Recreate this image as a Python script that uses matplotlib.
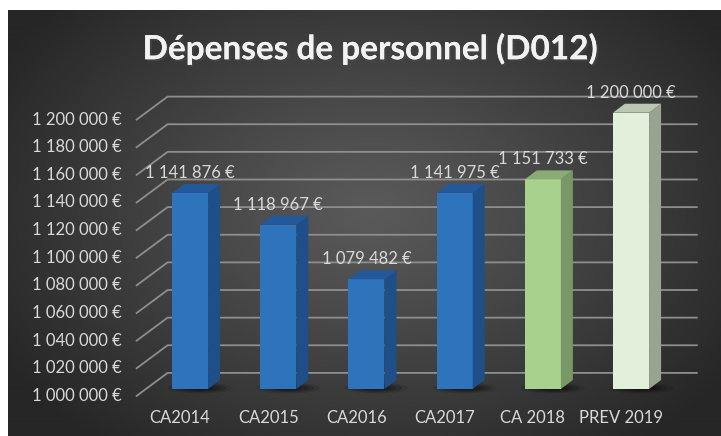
import numpy as np
import matplotlib
matplotlib.use("Agg")
import matplotlib.pyplot as plt
from matplotlib.patches import Polygon, Ellipse
import matplotlib.patheffects as pe

# data
categories = ["CA2014", "CA2015", "CA2016", "CA2017", "CA 2018", "PREV 2019"]
values = [1141876, 1118967, 1079482, 1141975, 1151733, 1200000]
y_ticks = list(range(1000000, 1200001, 20000))
base = 1000000

front_cols = ["#2e74bd", "#2e74bd", "#2e74bd", "#2e74bd", "#a9d18e", "#e2efda"]
side_cols = ["#1f4f88", "#1f4f88", "#1f4f88", "#1f4f88", "#7a9766", "#98a491"]
top_cols = ["#23589a", "#23589a", "#23589a", "#23589a", "#8aab75", "#bcc7b3"]

plt.rcParams["font.family"] = ["Lato", "DejaVu Sans"]

W, H = 721, 436
fig = plt.figure(figsize=(W / 100, H / 100), dpi=100, facecolor="white")

# background with radial gradient
bg = fig.add_axes([0, 0, 1, 1])
bg.set_xlim(0, W)
bg.set_ylim(H, 0)
bg.axis("off")
yy, xx = np.mgrid[11:H, 8:W]
r = np.sqrt(((xx - 370) / 430.0) ** 2 + ((yy - 210) / 300.0) ** 2)
shade = 90 - 52 * np.clip(r, 0, 1) ** 1.1
img = np.dstack([shade, shade, shade]) / 255.0
bg.imshow(img, extent=(8, W, H, 11), aspect="auto", interpolation="bilinear")

# plot plane (bar plane)
ax = fig.add_axes([145.9 / W, 47 / H, 529.2 / W, 276.3 / H])
ax.set_xlim(-0.5, 5.5)
ax.set_ylim(1000000, 1200000)
ax.patch.set_alpha(0)
ax.axis("off")

FRONT = (-9.3, -6.9)
BACK = (21.7, 16.1)
DEPTH = (12, 9)
grid_col = "#8e8e8e"
txt_col = "#d9d9d9"


def off(x, y, dx, dy):
    p = ax.transData.transform((x, y))
    return ax.transData.inverted().transform((p[0] + dx, p[1] + dy))


# gridlines: diagonal side wall + back wall
for v in y_ticks:
    p0 = off(-0.5, v, *FRONT)
    p1 = off(-0.5, v, *BACK)
    p2 = off(5.5, v, *BACK)
    ax.plot([p0[0], p1[0], p2[0]], [p0[1], p1[1], p2[1]], color=grid_col,
            lw=1.3, clip_on=False, zorder=1)
    lp = off(-0.5, v, FRONT[0] - 15, FRONT[1])
    ax.text(lp[0], lp[1], f"{v:,.0f}".replace(",", " ") + " €", ha="right",
            va="center", fontsize=12, color=txt_col)

x = np.arange(len(categories))
bw = 0.41
px_x = ax.transData.transform((1, base))[0] - ax.transData.transform((0, base))[0]
px_y = ax.transData.transform((0, base + 1))[1] - ax.transData.transform((0, base))[1]

# soft shadows at bar bases
for xi in x:
    for k, a in enumerate([0.10, 0.14, 0.18, 0.22]):
        e = Ellipse((xi + 10 / px_x, base + 1 / px_y), width=(64 - 12 * k) / px_x,
                    height=(11 - 2 * k) / px_y, color="black", alpha=a, lw=0,
                    zorder=2, clip_on=False)
        ax.add_patch(e)

ax.bar(x, [v - base for v in values], bottom=base, width=bw, color=front_cols, zorder=3)

for xi, v, sc, tc in zip(x, values, side_cols, top_cols):
    r0 = (xi + bw / 2, base)
    r1 = (xi + bw / 2, v)
    side = [r0, r1, off(*r1, *DEPTH), off(*r0, *DEPTH)]
    ax.add_patch(Polygon(side, closed=True, color=sc, lw=0, zorder=3, clip_on=False))
    l1 = (xi - bw / 2, v)
    top = [l1, r1, off(*r1, *DEPTH), off(*l1, *DEPTH)]
    ax.add_patch(Polygon(top, closed=True, color=tc, lw=0, zorder=3, clip_on=False))
    ax.annotate(f"{v:,.0f}".replace(",", " ") + " €", (xi, v), xytext=(0, 20),
                textcoords="offset pixels", ha="center", va="center",
                fontsize=12, color=txt_col, zorder=4)

for xi, c in zip(x, categories):
    ax.annotate(c, (xi, base), xytext=(-10, -29), textcoords="offset pixels",
                ha="center", va="center", fontsize=12, color=txt_col,
                annotation_clip=False)

fig.text(370 / W, 1 - 49 / H, "Dépenses de personnel (D012)", ha="center",
         va="center", fontsize=24, fontweight="bold", color="#f2f2f2",
         path_effects=[pe.withSimplePatchShadow(offset=(1.5, -1.5), alpha=0.6),
                       pe.Normal()])

fig.savefig("out.png", dpi=100)
